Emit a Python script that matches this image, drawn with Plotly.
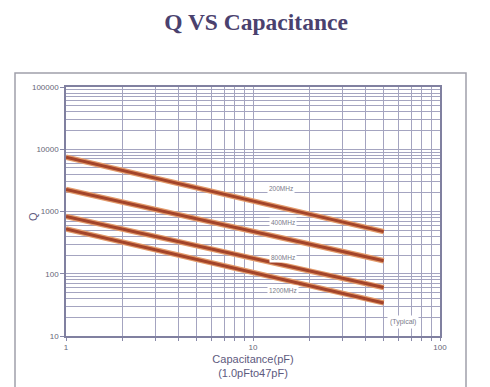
import plotly.graph_objects as go

# Data
capacitance = [1, 50]
q_200mhz = [7430, 475]
q_400mhz = [2265, 162]
q_800mhz = [830, 60]
q_1200mhz = [526, 34]
series_names = ["200MHz", "400MHz", "800MHz", "1200MHz"]
x_tick_vals = [1, 10, 100]
x_tick_text = ["1", "10", "100"]
y_tick_vals = [10, 100, 1000, 10000, 100000]
y_tick_text = ["10", "100", "1000", "10000", "100000"]
x_minor_vals = [m * d for d in (1, 10) for m in range(2, 10)]
y_minor_vals = [m * d for d in (10, 100, 1000, 10000) for m in range(2, 10)]

series = [q_200mhz, q_400mhz, q_800mhz, q_1200mhz]

fig = go.Figure()
for name, q in zip(series_names, series):
    fig.add_trace(go.Scatter(x=capacitance, y=q, mode="lines", name=name,
                             line=dict(color="#e39a6a", width=5.5),
                             showlegend=False, hoverinfo="skip"))
    fig.add_trace(go.Scatter(x=capacitance, y=q, mode="lines", name=name,
                             line=dict(color="#a3442a", width=3),
                             showlegend=False))

grid_c = "#a4a4c0"
font_fam = "Liberation Sans, Arial"
fig.update_xaxes(type="log", range=[0, 2], tickmode="array", tickvals=x_tick_vals, ticktext=x_tick_text,
                 showgrid=True, gridcolor=grid_c, gridwidth=1,
                 minor=dict(tickmode="array", tickvals=x_minor_vals, showgrid=True, gridcolor=grid_c,
                            gridwidth=1, ticks="outside", ticklen=3, tickcolor="#8888a8"),
                 ticks="outside", ticklen=3, tickcolor="#8888a8",
                 showline=True, linecolor="#8080a0", linewidth=1.5, mirror=True,
                 tickfont=dict(family=font_fam, size=8, color="#666677"),
                 zeroline=False, automargin=False,
                 title=dict(text="Capacitance(pF)<br>(1.0pFto47pF)",
                            font=dict(family=font_fam, size=11, color="#5e5a7e"),
                            standoff=4))
fig.update_yaxes(type="log", range=[1, 5], tickmode="array", tickvals=y_tick_vals, ticktext=y_tick_text,
                 showgrid=True, gridcolor=grid_c, gridwidth=1,
                 minor=dict(tickmode="array", tickvals=y_minor_vals, showgrid=True, gridcolor=grid_c,
                            gridwidth=1),
                 ticks="outside", ticklen=4, tickcolor="#8888a8",
                 showline=True, linecolor="#8080a0", linewidth=1.5, mirror=True,
                 tickfont=dict(family=font_fam, size=8, color="#666677"),
                 zeroline=False, automargin=False)

W, H = 490, 387
L, R, T, B = 66, 50, 87, 51
pw, ph = W - L - R, H - T - B

def px(x):
    return (x - L) / pw

def py(y):
    return (H - B - y) / ph

# outer frame
fig.add_shape(type="rect", xref="paper", yref="paper",
              x0=px(15), x1=px(466), y0=py(400), y1=py(73),
              line=dict(color="#a0a0aa", width=1.5), fillcolor="rgba(0,0,0,0)", layer="below")

# y-axis title
fig.add_annotation(xref="paper", yref="paper", x=px(33), y=py(217), text="Q", textangle=-90,
                   xanchor="center", yanchor="middle", showarrow=False,
                   font=dict(family=font_fam, size=11, color="#5e5a7e"))

label_pos = [(281, 188), (283, 222), (283, 257), (283, 290)]
for name, (lx, ly) in zip(series_names, label_pos):
    fig.add_annotation(xref="paper", yref="paper", x=px(lx), y=py(ly), text=name,
                       xanchor="center", yanchor="middle",
                       showarrow=False, bgcolor="white", borderpad=1,
                       font=dict(family=font_fam, size=6.5, color="#7a7a8a"))
fig.add_annotation(xref="paper", yref="paper", x=px(403), y=py(322), text="(Typical)",
                   xanchor="center", yanchor="middle",
                   showarrow=False, bgcolor="white", borderpad=2,
                   font=dict(family=font_fam, size=7, color="#7a7a8a"))

fig.update_layout(
    width=W, height=H,
    margin=dict(l=L, r=R, t=T, b=B, autoexpand=False),
    paper_bgcolor="white", plot_bgcolor="white",
    title=dict(text="<b>Q VS Capacitance</b>", x=256 / W, xanchor="center", xref="container",
               y=1 - 22 / H, yanchor="middle", yref="container",
               font=dict(family="Liberation Serif, Times New Roman", size=23.5, color="#4a416e")),
)

fig.write_html("out.html", config={"displayModeBar": False},
               post_script="document.body.style.margin='0';")
